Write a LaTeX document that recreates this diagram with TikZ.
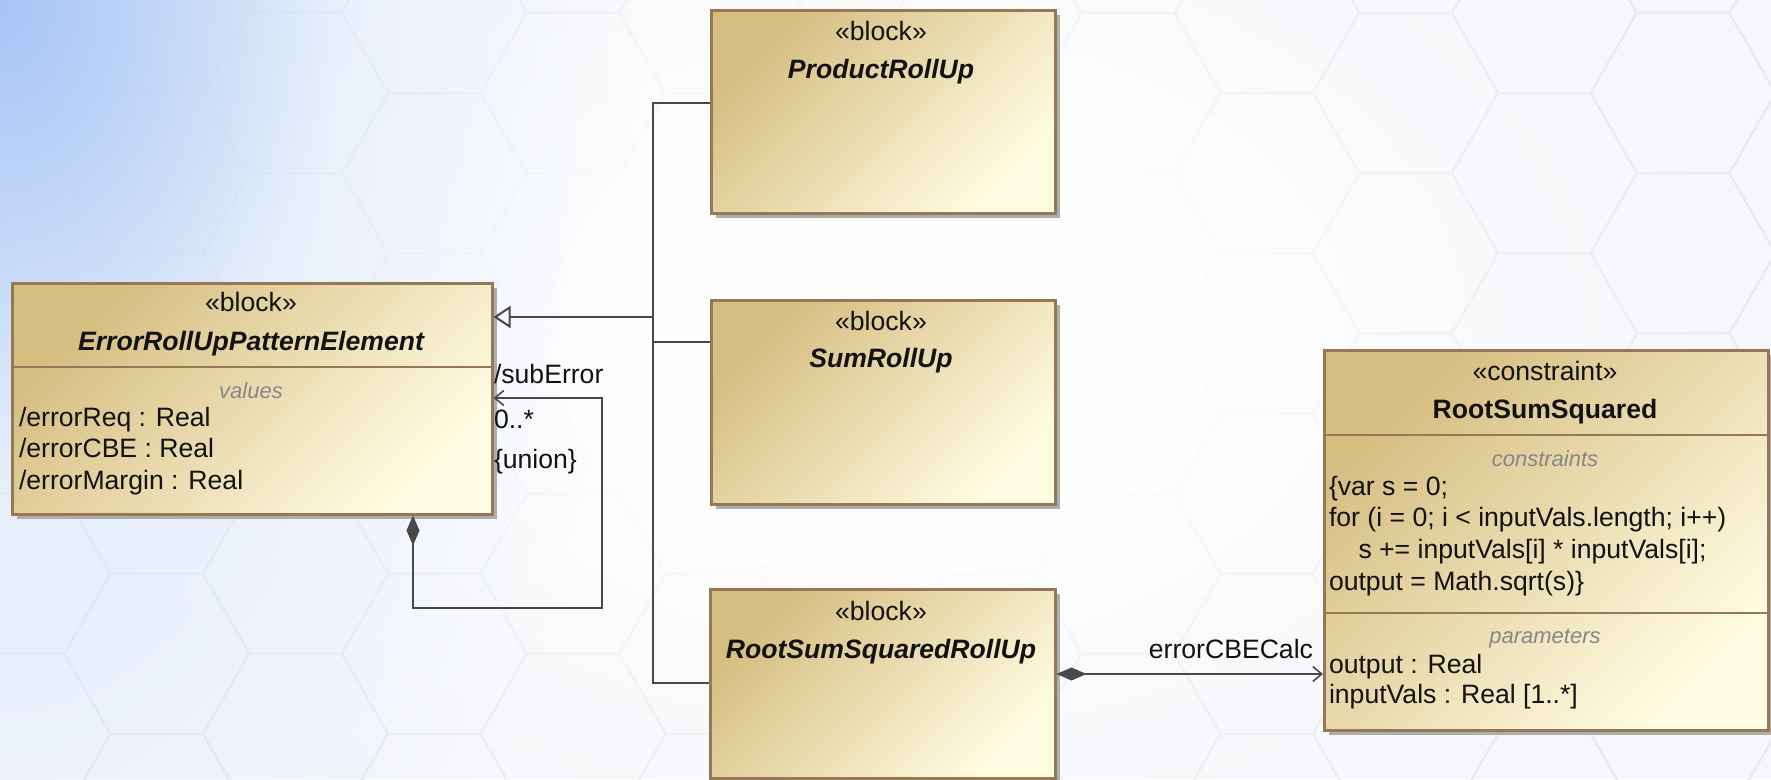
\documentclass[tikz,border=0pt]{standalone}
\usepackage{fontspec}
\setmainfont{Liberation Sans}
\usetikzlibrary{arrows.meta,shadows,fadings}

\definecolor{bgbase}{RGB}{246,247,251}
\definecolor{hexedge}{RGB}{231,234,240}
\definecolor{skyblue}{RGB}{166,197,246}
\definecolor{boxtan}{RGB}{214,189,128}
\definecolor{boxcream}{RGB}{255,252,226}
\definecolor{boxedge}{RGB}{150,120,86}
\definecolor{wire}{RGB}{72,72,72}
\definecolor{comptitle}{RGB}{135,135,135}
\definecolor{ink}{RGB}{18,18,18}

\newcommand\diagfont{\fontsize{26.6}{31.5}\selectfont}
\newcommand\compfont{\fontsize{22}{26}\selectfont\itshape}

\tikzfading[name=softglow, inner color=transparent!0, outer color=transparent!100]

\begin{document}
\begin{tikzpicture}[x=1pt,y=-1pt,
  lbl/.style={font=\diagfont, text=ink, inner sep=0pt, outer sep=0pt,
              text height=19.2pt, text depth=2.7pt},
  stereo/.style={lbl},
  bname/.style={lbl, font=\diagfont\bfseries\itshape},
  cname/.style={lbl, font=\diagfont\bfseries},
  ctitle/.style={lbl, font=\compfont, text=comptitle},
  member/.style={lbl, anchor=west},
  blockbox/.style={draw=boxedge, line width=2.5pt, inner sep=0pt, anchor=north west,
                   top color=boxtan, bottom color=boxcream, shading angle=45,
                   drop shadow={shadow xshift=5pt, shadow yshift=-5pt, fill=black!32, opacity=1}},
  divider/.style={draw=boxedge, line width=2.5pt},
  wireline/.style={draw=wire, line width=2.6pt},
  hexline/.style={draw=hexedge, line width=2pt},
  composite/.tip={Diamond[length=30pt, width=13pt]},
  navigable/.tip={Straight Barb[length=9pt, width=15pt, line width=1.6pt]},
  general/.tip={Triangle[open, length=17pt, width=22pt, line width=2pt]}
]
\useasboundingbox (0,0) rectangle (1771,779);

% ---------- backdrop: pale honeycomb with a blue corner glow ----------
\fill[bgbase] (0,0) rectangle (1771,779);
\begin{scope}
  \clip (0,0) rectangle (1771,779);
  \foreach \k in {-1,...,13}{
    \foreach \m in {-1,...,5}{
      \pgfmathsetmacro\hx{1683-138.75*\k}
      \pgfmathsetmacro\hy{93+160.2*\m+80.1*mod(\k,2)}
      \draw[hexline] (\hx+92.5,\hy) -- (\hx+46.25,\hy+80.1) -- (\hx-46.25,\hy+80.1)
        -- (\hx-92.5,\hy) -- (\hx-46.25,\hy-80.1) -- (\hx+46.25,\hy-80.1) -- cycle;
    }
  }
  \fill[white, path fading=softglow] (900,340) ellipse [x radius=900, y radius=620];
  \fill[white, path fading=softglow] (880,330) ellipse [x radius=620, y radius=430];
  \fill[white, opacity=0.9] (880,330) ellipse [x radius=330, y radius=250];
  \fill[skyblue!40, path fading=softglow] (0,0) ellipse [x radius=640, y radius=1200];
  \fill[skyblue, path fading=softglow] (0,0) ellipse [x radius=340, y radius=460];
\end{scope}

% ---------- blocks ----------
\node[blockbox, minimum width=480pt, minimum height=231pt] (err) at (11,282) {};
\node[blockbox, minimum width=344pt, minimum height=203pt] (prod) at (710,9) {};
\node[blockbox, minimum width=344pt, minimum height=204pt] (sum) at (710,299) {};
\node[blockbox, minimum width=345pt, minimum height=189pt] (rss) at (709,588) {};
\node[blockbox, minimum width=444pt, minimum height=380pt] (cons) at (1323,349) {};

\draw[divider] (err.west |- 0,367) -- (err.east |- 0,367);
\draw[divider] (cons.west |- 0,435) -- (cons.east |- 0,435);
\draw[divider] (cons.west |- 0,613) -- (cons.east |- 0,613);

% ErrorRollUpPatternElement
\node[stereo] (errSt) at (251,303) {«block»};
\node[bname] (errNm) at (251,342) {ErrorRollUpPatternElement};
\node[ctitle] (errVals) at (251,390) {values};
\node[member] (errA) at (19,418) {/errorReq : Real};
\node[member] (errB) at (19,449) {/errorCBE : Real};
\node[member] (errC) at (19,481) {/errorMargin : Real};

% ProductRollUp, SumRollUp, RootSumSquaredRollUp
\node[stereo] (prodSt) at (881,32) {«block»};
\node[bname] (prodNm) at (881,70) {ProductRollUp};
\node[stereo] (sumSt) at (881,322) {«block»};
\node[bname] (sumNm) at (881,359) {SumRollUp};
\node[stereo] (rssSt) at (881,612) {«block»};
\node[bname] (rssNm) at (881,650) {RootSumSquaredRollUp};

% RootSumSquared constraint
\node[stereo] (consSt) at (1545,372) {«constraint»};
\node[cname] (consNm) at (1545,410) {RootSumSquared};
\node[ctitle] (consCt) at (1545,458) {constraints};
\node[member] (codeA) at (1329,487) {\{var s = 0;};
\node[member] (codeB) at (1329,518) {for (i = 0; i < inputVals.length; i++)};
\node[member] (codeC) at (1329,550) {\hspace{29.5pt}s += inputVals[i] * inputVals[i];};
\node[member] (codeD) at (1329,582) {output = Math.sqrt(s)\}};
\node[ctitle] (consPm) at (1545,635) {parameters};
\node[member] (parA) at (1329,665) {output : Real};
\node[member] (parB) at (1329,695) {inputVals : Real [1..*]};

% ---------- generalizations ----------
\coordinate (bus) at (653,317);
\draw[wireline, -general] (bus) -- (err.east |- bus);
\draw[wireline] (prod.west |- 0,103) -| (bus);
\draw[wireline] (sum.west |- 0,342) -| (bus);
\draw[wireline] (rss.west |- 0,683) -| (bus);

% ---------- self composition /subError ----------
\coordinate (loopcorner) at (602,608);
\draw[wireline, composite-navigable] (err.south -| 413,0) |- (loopcorner) |- (err.east |- 0,398);
\node[member] (subName) at (494,375) {/subError};
\node[member] (subMult) at (494,420) {0..*};
\node[member] (subCons) at (494,460) {\{union\}};

% ---------- composition to the constraint ----------
\draw[wireline, composite-navigable] (rss.east |- 0,674) -- (cons.west |- 0,674);
\node[lbl, anchor=east] (calcName) at (1313,650) {errorCBECalc};

\end{tikzpicture}
\end{document}
